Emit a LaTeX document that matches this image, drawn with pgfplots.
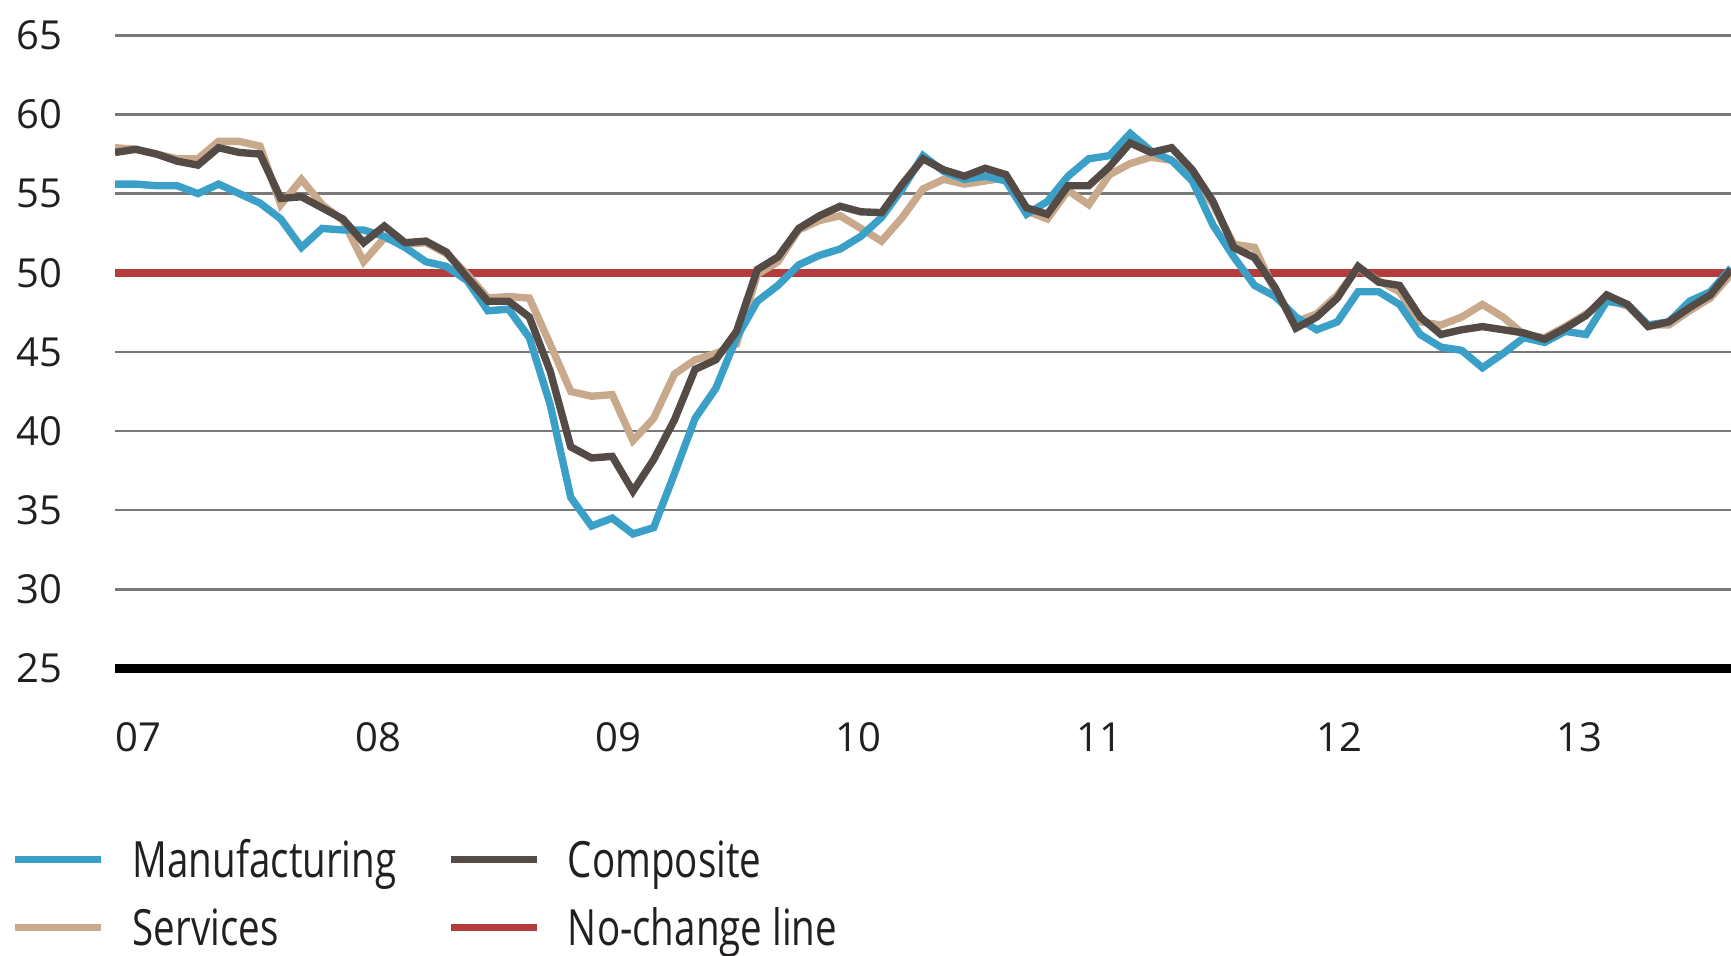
\documentclass[border=0pt]{standalone}
\usepackage{fontspec}
\setmainfont{Open Sans}
\newfontfamily\legfont[FakeStretch=0.77]{Open Sans}
\usepackage{pgfplots}
\usepackage{pgfplotstable}
\pgfplotsset{compat=1.18}
\definecolor{manu}{RGB}{58,160,200}
\definecolor{serv}{RGB}{201,169,140}
\definecolor{comp}{RGB}{85,75,70}
\definecolor{nochange}{RGB}{180,60,60}
\definecolor{gridgray}{RGB}{120,120,120}
\definecolor{textcol}{RGB}{35,31,32}

\pgfplotstableread{
m manu serv comp
0 55.6 57.9 57.6
1 55.6 57.8 57.8
2 55.5 57.5 57.5
3 55.5 57.2 57.05
4 55.0 57.2 56.8
5 55.6 58.3 57.9
6 55.0 58.3 57.6
7 54.4 58.0 57.5
8 53.4 54.3 54.7
9 51.6 55.9 54.8
10 52.8 54.3 54.1
11 52.7 53.3 53.4
12 52.7 50.7 51.9
13 52.3 52.2 52.95
14 51.6 51.8 51.9
15 50.7 51.9 52.0
16 50.4 51.2 51.3
17 49.5 49.9 49.7
18 47.6 48.4 48.2
19 47.7 48.5 48.2
20 45.9 48.4 47.2
21 41.7 45.5 43.8
22 35.8 42.5 39.0
23 34.0 42.2 38.3
24 34.5 42.3 38.4
25 33.5 39.4 36.2
26 33.9 40.8 38.2
27 37.3 43.6 40.7
28 40.8 44.5 43.9
29 42.7 44.9 44.5
30 45.9 45.5 46.3
31 48.2 49.9 50.2
32 49.2 50.7 51.0
33 50.5 52.7 52.8
34 51.1 53.3 53.6
35 51.5 53.6 54.2
36 52.3 52.8 53.85
37 53.5 52.0 53.8
38 55.3 53.5 55.6
39 57.4 55.3 57.2
40 56.4 55.9 56.5
41 55.9 55.6 56.1
42 56.1 55.8 56.6
43 55.8 56.0 56.2
44 53.7 53.9 54.1
45 54.5 53.4 53.7
46 56.1 55.2 55.5
47 57.2 54.3 55.5
48 57.4 56.2 56.7
49 58.8 56.9 58.2
50 57.7 57.3 57.6
51 57.1 57.1 57.9
52 55.8 56.2 56.5
53 53.0 54.3 54.5
54 51.0 51.8 51.6
55 49.2 51.6 50.95
56 48.5 48.8 49.05
57 47.2 46.9 46.5
58 46.4 47.4 47.2
59 46.9 48.6 48.4
60 48.8 50.3 50.4
61 48.8 49.5 49.4
62 48.0 48.8 49.2
63 46.1 46.9 47.2
64 45.3 46.7 46.1
65 45.1 47.2 46.4
66 44.0 48.0 46.6
67 44.9 47.2 46.4
68 45.9 46.1 46.2
69 45.6 45.9 45.8
70 46.3 46.6 46.5
71 46.1 47.4 47.3
72 48.2 48.3 48.6
73 48.0 47.9 48.0
74 46.7 46.7 46.6
75 46.9 46.7 46.9
76 48.2 47.6 47.8
77 48.8 48.4 48.6
78 50.3 49.9 50.2
}\pmidata

\begin{document}
\begin{tikzpicture}
\useasboundingbox (0pt,0pt) rectangle (432.75pt,238.75pt);
\begin{axis}[
  at={(28.75pt,71.625pt)}, anchor=south west,
  scale only axis, width=404pt, height=158.3pt,
  xmin=0, xmax=78, ymin=25, ymax=65,
  ytick={30,35,...,65},
  extra y ticks={25},
  extra y tick style={grid style={draw=black, line width=2.4pt}},
  ymajorgrids,
  grid style={draw=gridgray, line width=0.6pt},
  xtick={1.11,12.72,24.28,35.9,47.5,59.1,70.7},
  xticklabels={07,08,09,10,11,12,13},
  major tick length=0pt,
  axis line style={draw=none},
  tick label style={font=\fontsize{10}{12}\selectfont, text=textcol},
  yticklabel style={anchor=east, inner sep=0pt, xshift=-13pt},
  xticklabel style={anchor=north, inner sep=0pt, yshift=-13.4pt},
  /pgf/number format/assume math mode=true,
  legend columns=2,
  legend cell align=left,
  legend image code/.code={\draw[line width=1.9pt] (0pt,0pt) -- (21.5pt,0pt);},
  legend style={draw=none, fill=none, at={(-0.0645,-0.272)}, anchor=north west,
    inner sep=0pt, font=\legfont\fontsize{12.5}{14}\selectfont, text=textcol,
    nodes={inner sep=0pt, text height=9pt, text depth=0pt}, row sep=8pt,
    /tikz/every odd column/.style={column sep=6.9pt},
    /tikz/every even column/.style={column sep=12.6pt}},
]
\addplot[nochange, line width=2.1pt, forget plot] coordinates {(0,50) (78,50)};
\addplot[serv, line width=1.85pt, forget plot] table[x=m, y=serv] {\pmidata};
\addplot[manu, line width=1.85pt, forget plot] table[x=m, y=manu] {\pmidata};
\addplot[comp, line width=1.85pt, forget plot] table[x=m, y=comp] {\pmidata};
\addlegendimage{manu}
\addlegendentry{Manufacturing}
\addlegendimage{comp}
\addlegendentry{Composite}
\addlegendimage{serv}
\addlegendentry{Services}
\addlegendimage{nochange}
\addlegendentry{No-change line}
\end{axis}
\end{tikzpicture}
\end{document}
